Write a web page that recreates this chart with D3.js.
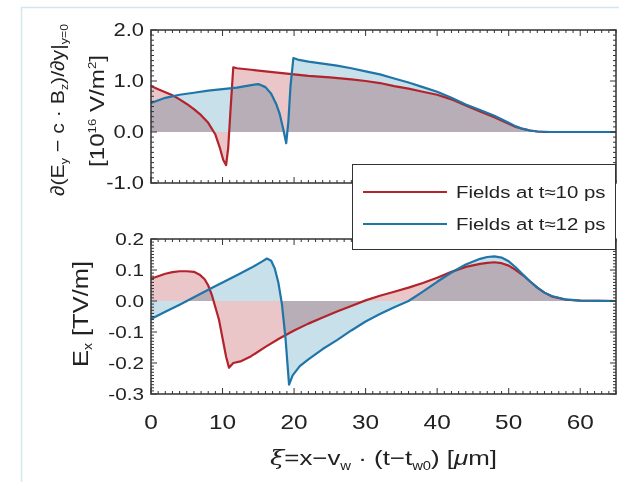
<!DOCTYPE html>
<html>
<head>
<meta charset="utf-8">
<script src="https://cdn.jsdelivr.net/npm/d3@7"></script>
<style>
  body { margin: 0; background: #fff; }
  svg { display: block; font-family: "Liberation Sans", Arial, sans-serif; }
  .fill { mix-blend-mode: multiply; }
</style>
</head>
<body>
<div id="chart"></div>
<script>
// field gradient, top panel  [10^16 V/m^2]
const topRedX = [0, 1, 2, 3, 4, 5, 6, 7, 8, 9, 9.6, 10.1, 10.5, 10.8, 11.1, 11.5, 12, 14, 16, 18, 20, 22, 25, 28, 30, 32, 34, 36, 38, 40, 42, 44, 46, 48, 50, 51, 52, 53, 54, 55, 57, 60, 65];
const topRedY = [0.90, 0.84, 0.78, 0.72, 0.64, 0.55, 0.45, 0.33, 0.18, -0.05, -0.3, -0.55, -0.65, -0.3, 0.4, 1.27, 1.25, 1.22, 1.19, 1.16, 1.13, 1.10, 1.07, 1.03, 1.0, 0.96, 0.90, 0.85, 0.79, 0.73, 0.64, 0.52, 0.40, 0.29, 0.16, 0.10, 0.06, 0.03, 0.01, 0, 0, 0, 0];
const topBlueX = [0, 2, 4, 6, 8, 10, 12, 14, 15, 16, 16.8, 17.5, 18, 18.5, 18.9, 19.2, 19.5, 19.9, 20.5, 22, 24, 26, 28, 30, 32, 34, 36, 38, 40, 42, 44, 46, 48, 50, 51, 52, 53, 54, 56, 60, 65];
const topBlueY = [0.57, 0.67, 0.73, 0.77, 0.81, 0.84, 0.87, 0.92, 0.94, 0.88, 0.75, 0.55, 0.35, 0.05, -0.22, 0.2, 0.9, 1.45, 1.42, 1.38, 1.34, 1.30, 1.25, 1.19, 1.13, 1.05, 0.97, 0.88, 0.79, 0.67, 0.54, 0.43, 0.32, 0.18, 0.11, 0.06, 0.03, 0.01, 0, 0, 0];

// Ex, bottom panel  [TV/m]
const botRedX = [0, 1, 2, 3, 4, 5, 6, 6.8, 7.5, 8, 8.5, 9, 9.5, 10, 10.5, 10.9, 11.5, 12.5, 14, 16, 18, 20, 22, 24, 26, 28, 30, 32, 34, 36, 38, 40, 42, 44, 46, 47, 48, 49, 50, 51, 52, 53, 54, 55, 56, 58, 60, 65];
const botRedY = [0.072, 0.080, 0.088, 0.093, 0.096, 0.096, 0.094, 0.085, 0.07, 0.05, 0.02, -0.02, -0.06, -0.12, -0.18, -0.215, -0.20, -0.195, -0.178, -0.148, -0.12, -0.095, -0.073, -0.053, -0.034, -0.016, 0.002, 0.017, 0.03, 0.043, 0.058, 0.075, 0.094, 0.11, 0.12, 0.123, 0.125, 0.122, 0.114, 0.1, 0.083, 0.063, 0.043, 0.027, 0.015, 0.004, 0.001, 0];
const botBlueX = [0, 2, 4, 6, 8, 10, 12, 14, 15.5, 16.2, 16.8, 17.3, 17.8, 18.3, 18.8, 19.3, 19.8, 20.8, 22, 24, 26, 28, 30, 32, 34, 36, 38, 40, 42, 44, 46, 47, 48, 49, 50, 51, 52, 53, 54, 55, 56, 58, 60, 65];
const botBlueY = [-0.058, -0.035, -0.012, 0.012, 0.036, 0.06, 0.083, 0.107, 0.127, 0.137, 0.13, 0.105, 0.06, -0.01, -0.12, -0.27, -0.24, -0.21, -0.188, -0.155, -0.126, -0.095, -0.066, -0.042, -0.02, 0.0, 0.03, 0.062, 0.092, 0.118, 0.136, 0.142, 0.144, 0.14, 0.128, 0.108, 0.085, 0.063, 0.043, 0.027, 0.016, 0.005, 0.001, 0];

const xTicks = [0, 10, 20, 30, 40, 50, 60];
const topTicks = [2.0, 1.0, 0.0, -1.0];
const botTicks = [0.2, 0.1, 0.0, -0.1, -0.2, -0.3];
const legendLabels = ["Fields at t\u224810 ps", "Fields at t\u224812 ps"];

const W = 619, H = 482;
const red = "#b3232b", blue = "#1f75a8";
const redFill = "#eac6c9", blueFill = "#c8e0e9";
const ink = "#222";
const stretch = 1.22; // the source figure is a bit wider than its font

const svg = d3.select("#chart").append("svg")
    .attr("width", W)
    .attr("height", H);

// outer frame of the figure
svg.append("rect")
    .attr("x", 21.5).attr("y", 7.5)
    .attr("width", 640).attr("height", 520)
    .attr("fill", "none")
    .attr("stroke", "#d3e6ee")
    .attr("stroke-width", 1.5);

const x = d3.scaleLinear().domain([0, 65]).range([151, 616]);
const yTop = d3.scaleLinear().domain([-1, 2]).range([183, 30]);
const yBot = d3.scaleLinear().domain([-0.3, 0.2]).range([394, 239]);

const fmt = d => d.toFixed(1);

function panel(y, series, majorY, minorStep, fontSize) {
    const g = svg.append("g");
    const [y0, y1] = y.domain();

    series.forEach(s => {
        const pts = s.xs.map((v, i) => [v, s.ys[i]]);
        g.append("path")
            .attr("class", "fill")
            .attr("d", d3.area().x(d => x(d[0])).y0(y(0)).y1(d => y(d[1]))(pts))
            .attr("fill", s.fill);
    });
    series.forEach(s => {
        const pts = s.xs.map((v, i) => [v, s.ys[i]]);
        g.append("path")
            .attr("d", d3.line().x(d => x(d[0])).y(d => y(d[1]))(pts))
            .attr("fill", "none")
            .attr("stroke", s.color)
            .attr("stroke-width", 2.2)
            .attr("stroke-linejoin", "round");
    });

    // ticks on all four sides, pointing inward
    const L = x.range()[0], R = x.range()[1];
    const T = y.range()[1], B = y.range()[0];
    const tk = g.append("g").attr("stroke", "#333").attr("stroke-width", 1);
    d3.range(0, 66, 1).forEach(v => {
        const len = v % 10 === 0 ? 6 : 3;
        tk.append("line").attr("x1", x(v)).attr("x2", x(v)).attr("y1", B).attr("y2", B - len);
        tk.append("line").attr("x1", x(v)).attr("x2", x(v)).attr("y1", T).attr("y2", T + len);
    });
    const n = Math.round((y1 - y0) / minorStep);
    d3.range(0, n + 1).forEach(i => {
        const v = y0 + i * minorStep;
        const major = majorY.some(m => Math.abs(m - v) < minorStep / 2);
        const len = major ? 6 : 3;
        tk.append("line").attr("x1", L).attr("x2", L + len).attr("y1", y(v)).attr("y2", y(v));
        tk.append("line").attr("x1", R).attr("x2", R - len).attr("y1", y(v)).attr("y2", y(v));
    });

    g.append("rect")
        .attr("x", L).attr("y", T)
        .attr("width", R - L).attr("height", B - T)
        .attr("fill", "none")
        .attr("stroke", "#333")
        .attr("stroke-width", 1.5);

    g.selectAll(".ylab")
        .data(majorY)
        .enter()
        .append("text")
        .attr("transform", d => `translate(${L - 7},${y(d)}) scale(${stretch},1)`)
        .attr("dy", "0.36em")
        .attr("text-anchor", "end")
        .attr("font-size", fontSize)
        .attr("fill", ink)
        .text(d => fmt(d));
    return g;
}

panel(yTop, [
    { xs: topRedX, ys: topRedY, color: red, fill: redFill },
    { xs: topBlueX, ys: topBlueY, color: blue, fill: blueFill }
], topTicks, 0.1, 18);

panel(yBot, [
    { xs: botRedX, ys: botRedY, color: red, fill: redFill },
    { xs: botBlueX, ys: botBlueY, color: blue, fill: blueFill }
], botTicks, 0.01, 17);

svg.selectAll(".xlab")
    .data(xTicks)
    .enter()
    .append("text")
    .attr("transform", d => `translate(${x(d)},429) scale(${stretch},1)`)
    .attr("text-anchor", "middle")
    .attr("font-size", 20)
    .attr("fill", ink)
    .text(d => d);

// axis titles
const t1 = svg.append("text")
    .attr("transform", "translate(64,110) rotate(-90)")
    .attr("text-anchor", "middle")
    .attr("font-size", 19)
    .attr("textLength", 172)
    .attr("lengthAdjust", "spacingAndGlyphs")
    .attr("fill", ink);
t1.append("tspan").text("\u2202(E");
t1.append("tspan").attr("font-size", 11).attr("dy", 4).text("y");
t1.append("tspan").attr("dy", -4).text(" \u2212 c \u00b7 B");
t1.append("tspan").attr("font-size", 11).attr("dy", 4).text("z");
t1.append("tspan").attr("dy", -4).text(")/\u2202y|");
t1.append("tspan").attr("font-size", 11).attr("dy", 4).text("y=0");

const t2 = svg.append("text")
    .attr("transform", "translate(104,111) rotate(-90)")
    .attr("text-anchor", "middle")
    .attr("font-size", 20)
    .attr("textLength", 112)
    .attr("lengthAdjust", "spacingAndGlyphs")
    .attr("fill", ink);
t2.append("tspan").text("[10");
t2.append("tspan").attr("font-size", 11).attr("dy", -8).text("16");
t2.append("tspan").attr("dy", 8).text(" V/m");
t2.append("tspan").attr("font-size", 11).attr("dy", -8).text("2");
t2.append("tspan").attr("dy", 8).text("]");

const t3 = svg.append("text")
    .attr("transform", "translate(88,314) rotate(-90)")
    .attr("text-anchor", "middle")
    .attr("font-size", 22)
    .attr("textLength", 106)
    .attr("lengthAdjust", "spacingAndGlyphs")
    .attr("fill", ink);
t3.append("tspan").text("E");
t3.append("tspan").attr("font-size", 12).attr("dy", 4).text("x");
t3.append("tspan").attr("dy", -4).text(" [TV/m]");

const t4 = svg.append("text")
    .attr("x", 270).attr("y", 465)
    .attr("font-size", 21)
    .attr("textLength", 227)
    .attr("lengthAdjust", "spacingAndGlyphs")
    .attr("fill", ink);
t4.append("tspan").attr("font-style", "italic").attr("font-family", "DejaVu Serif").text("\u03be");
t4.append("tspan").text("=x\u2212v");
t4.append("tspan").attr("font-size", 12).attr("dy", 5).text("w");
t4.append("tspan").attr("dy", -5).text(" \u00b7 (t\u2212t");
t4.append("tspan").attr("font-size", 12).attr("dy", 5).text("w0");
t4.append("tspan").attr("dy", -5).text(") [");
t4.append("tspan").attr("font-style", "italic").text("\u03bc");
t4.append("tspan").text("m]");

// legend
const lg = svg.append("g");
lg.append("rect")
    .attr("x", 352.5).attr("y", 164.5)
    .attr("width", 263).attr("height", 85)
    .attr("fill", "#fff")
    .attr("stroke", "#333")
    .attr("stroke-width", 1);
[red, blue].forEach((c, i) => {
    const yy = 192 + i * 32;
    lg.append("line")
        .attr("x1", 363).attr("x2", 447)
        .attr("y1", yy).attr("y2", yy)
        .attr("stroke", c).attr("stroke-width", 2.2);
    lg.append("text")
        .attr("transform", `translate(456,${yy}) scale(1.2,1)`)
        .attr("dy", "0.35em")
        .attr("font-size", 17)
        .attr("fill", ink)
        .text(legendLabels[i]);
});
</script>
</body>
</html>
